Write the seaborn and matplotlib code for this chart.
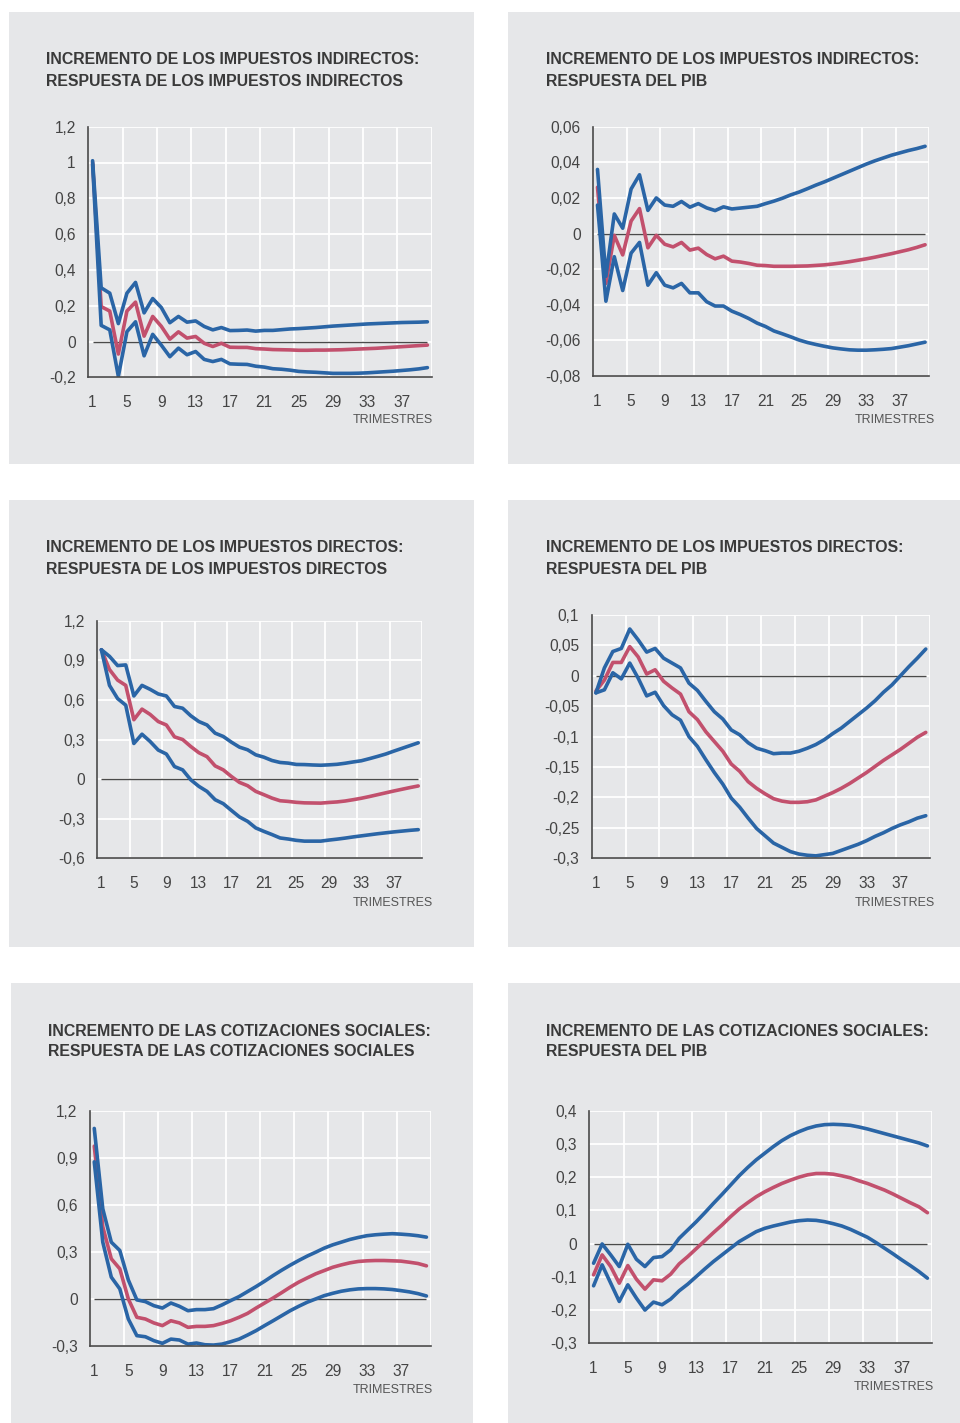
import numpy as np
import pandas as pd
import matplotlib
matplotlib.use("Agg")
import matplotlib.pyplot as plt
from matplotlib.patches import Rectangle
import seaborn as sns

sns.set_style("white")
plt.rcParams["font.family"] = ["Liberation Sans", "DejaVu Sans"]

# ---------------------------------------------------------------- data
trimestres = list(range(1, 41))
x_ticks = [1, 5, 9, 13, 17, 21, 25, 29, 33, 37]

# 1) Indirect taxes shock -> indirect taxes
ii_sup = [1.01, 0.30, 0.27, 0.10, 0.27, 0.33, 0.16, 0.24, 0.19, 0.105, 0.14, 0.108, 0.115, 0.084, 0.065, 0.078,
          0.061, 0.062, 0.064, 0.058, 0.062, 0.062, 0.066, 0.07, 0.072, 0.075, 0.078, 0.082, 0.086, 0.089, 0.092,
          0.095, 0.098, 0.100, 0.102, 0.104, 0.106, 0.107, 0.108, 0.110]
ii_med = [1.0, 0.195, 0.17, -0.07, 0.17, 0.22, 0.03, 0.14, 0.085, 0.013, 0.054, 0.019, 0.028, -0.01, -0.028, -0.01,
          -0.032, -0.033, -0.033, -0.04, -0.042, -0.045, -0.046, -0.047, -0.049, -0.049, -0.048, -0.048, -0.047,
          -0.046, -0.044, -0.042, -0.040, -0.038, -0.035, -0.032, -0.029, -0.026, -0.023, -0.020]
ii_inf = [0.99, 0.09, 0.065, -0.195, 0.055, 0.11, -0.08, 0.04, -0.02, -0.085, -0.037, -0.074, -0.056, -0.1, -0.112,
          -0.1, -0.125, -0.127, -0.128, -0.138, -0.143, -0.152, -0.155, -0.16, -0.167, -0.17, -0.172, -0.175, -0.178,
          -0.178, -0.178, -0.177, -0.175, -0.172, -0.169, -0.166, -0.162, -0.158, -0.153, -0.146]

# 2) Indirect taxes shock -> GDP
ip_sup = [0.036, -0.024, 0.011, 0.003, 0.025, 0.033, 0.013, 0.020, 0.016, 0.0153, 0.018, 0.0148, 0.0168, 0.0144,
          0.0129, 0.015, 0.0138, 0.0143, 0.0148, 0.0153, 0.0168, 0.0182, 0.0198, 0.0217, 0.0233, 0.0252, 0.0272,
          0.0290, 0.0310, 0.0330, 0.0350, 0.0370, 0.0390, 0.0408, 0.0424, 0.0440, 0.0453, 0.0466, 0.0477, 0.0490]
ip_med = [0.026, -0.028, -0.001, -0.012, 0.007, 0.014, -0.008, -0.001, -0.006, -0.0075, -0.005, -0.0093, -0.0082,
          -0.0118, -0.0142, -0.0127, -0.0155, -0.016, -0.0168, -0.0178, -0.018, -0.0184, -0.0184, -0.0184, -0.0183,
          -0.0182, -0.0179, -0.0176, -0.0171, -0.0165, -0.0158, -0.0150, -0.0142, -0.0133, -0.0123, -0.0113,
          -0.0102, -0.0091, -0.0078, -0.0063]
ip_inf = [0.016, -0.038, -0.013, -0.032, -0.011, -0.005, -0.029, -0.022, -0.029, -0.0305, -0.028, -0.0333, -0.0333,
          -0.0383, -0.0407, -0.0407, -0.0436, -0.0455, -0.0477, -0.0503, -0.0522, -0.0547, -0.0563, -0.058, -0.0598,
          -0.0612, -0.0623, -0.0633, -0.0642, -0.0648, -0.0653, -0.0655, -0.0655, -0.0653, -0.0650, -0.0646,
          -0.0638, -0.0630, -0.0620, -0.0610]

# 3) Direct taxes shock -> direct taxes
dd_sup = [0.98, 0.93, 0.86, 0.865, 0.63, 0.71, 0.68, 0.645, 0.63, 0.55, 0.537, 0.48, 0.436, 0.41, 0.348, 0.323, 0.28,
          0.242, 0.222, 0.184, 0.166, 0.141, 0.126, 0.121, 0.111, 0.11, 0.107, 0.105, 0.108, 0.112, 0.12, 0.13, 0.139,
          0.155, 0.172, 0.19, 0.212, 0.233, 0.254, 0.275]
dd_med = [0.98, 0.83, 0.75, 0.71, 0.45, 0.53, 0.49, 0.436, 0.41, 0.32, 0.30, 0.247, 0.2, 0.17, 0.1, 0.07, 0.02,
          -0.025, -0.05, -0.093, -0.118, -0.144, -0.164, -0.169, -0.176, -0.18, -0.181, -0.182, -0.177, -0.173,
          -0.166, -0.156, -0.145, -0.132, -0.118, -0.104, -0.09, -0.077, -0.064, -0.052]
dd_inf = [0.98, 0.71, 0.61, 0.56, 0.27, 0.34, 0.285, 0.22, 0.19, 0.095, 0.07, -0.005, -0.055, -0.093, -0.156,
          -0.186, -0.237, -0.287, -0.32, -0.37, -0.396, -0.42, -0.446, -0.454, -0.464, -0.47, -0.47, -0.47, -0.462,
          -0.455, -0.447, -0.438, -0.43, -0.422, -0.414, -0.407, -0.4, -0.394, -0.388, -0.383]

# 4) Direct taxes shock -> GDP
dp_sup = [-0.028, 0.013, 0.04, 0.045, 0.077, 0.059, 0.039, 0.045, 0.029, 0.021, 0.013, -0.012, -0.024, -0.042,
          -0.059, -0.071, -0.089, -0.097, -0.11, -0.119, -0.123, -0.128, -0.127, -0.127, -0.124, -0.119, -0.113,
          -0.105, -0.095, -0.086, -0.075, -0.064, -0.053, -0.041, -0.027, -0.015, 0.0, 0.015, 0.029, 0.044]
dp_med = [-0.025, -0.007, 0.022, 0.022, 0.048, 0.031, 0.003, 0.01, -0.009, -0.02, -0.03, -0.059, -0.072, -0.092,
          -0.108, -0.124, -0.145, -0.157, -0.174, -0.185, -0.194, -0.202, -0.206, -0.208, -0.208, -0.207, -0.204,
          -0.198, -0.192, -0.185, -0.177, -0.168, -0.159, -0.149, -0.139, -0.13, -0.121, -0.111, -0.101, -0.093]
dp_inf = [-0.028, -0.023, 0.005, -0.005, 0.021, -0.004, -0.033, -0.027, -0.049, -0.064, -0.073, -0.1, -0.116,
          -0.138, -0.159, -0.178, -0.201, -0.216, -0.234, -0.251, -0.263, -0.275, -0.282, -0.289, -0.293, -0.295,
          -0.296, -0.294, -0.292, -0.287, -0.282, -0.277, -0.271, -0.264, -0.258, -0.251, -0.245, -0.24, -0.234,
          -0.230]

# 5) Social contributions shock -> social contributions
cc_sup = [1.087, 0.575, 0.362, 0.309, 0.121, -0.006, -0.017, -0.043, -0.058, -0.026, -0.047, -0.075, -0.068, -0.068,
          -0.062, -0.038, -0.011, 0.015, 0.047, 0.079, 0.113, 0.149, 0.183, 0.215, 0.245, 0.273, 0.298, 0.324, 0.345,
          0.362, 0.379, 0.392, 0.403, 0.409, 0.413, 0.416, 0.413, 0.409, 0.403, 0.394]
cc_med = [0.974, 0.46, 0.256, 0.192, 0.0, -0.117, -0.128, -0.153, -0.17, -0.139, -0.153, -0.181, -0.175, -0.175,
          -0.17, -0.156, -0.139, -0.117, -0.092, -0.058, -0.026, 0.006, 0.04, 0.075, 0.107, 0.134, 0.16, 0.181, 0.202,
          0.217, 0.23, 0.239, 0.243, 0.245, 0.245, 0.243, 0.241, 0.234, 0.226, 0.211]
cc_inf = [0.874, 0.362, 0.139, 0.064, -0.128, -0.234, -0.241, -0.266, -0.283, -0.256, -0.262, -0.288, -0.281,
          -0.292, -0.294, -0.288, -0.273, -0.256, -0.23, -0.202, -0.17, -0.139, -0.107, -0.075, -0.047, -0.021, 0.0,
          0.021, 0.036, 0.049, 0.058, 0.064, 0.066, 0.066, 0.064, 0.06, 0.053, 0.045, 0.034, 0.019]

# 6) Social contributions shock -> GDP
cp_sup = [-0.059, -0.001, -0.034, -0.069, -0.002, -0.047, -0.069, -0.042, -0.039, -0.019, 0.016, 0.041, 0.066, 0.093,
          0.121, 0.148, 0.176, 0.204, 0.229, 0.252, 0.272, 0.292, 0.31, 0.325, 0.337, 0.347, 0.354, 0.358, 0.359,
          0.358, 0.356, 0.351, 0.345, 0.338, 0.331, 0.324, 0.317, 0.31, 0.303, 0.294]
cp_med = [-0.094, -0.034, -0.069, -0.119, -0.066, -0.107, -0.137, -0.109, -0.112, -0.092, -0.061, -0.039, -0.015,
          0.009, 0.033, 0.056, 0.081, 0.104, 0.123, 0.141, 0.156, 0.169, 0.181, 0.191, 0.2, 0.207, 0.211, 0.211,
          0.209, 0.204, 0.198, 0.189, 0.181, 0.171, 0.161, 0.149, 0.136, 0.123, 0.111, 0.093]
cp_inf = [-0.127, -0.064, -0.119, -0.174, -0.124, -0.164, -0.2, -0.176, -0.184, -0.167, -0.142, -0.122, -0.099,
          -0.076, -0.054, -0.034, -0.014, 0.006, 0.021, 0.036, 0.046, 0.053, 0.059, 0.065, 0.069, 0.071, 0.07, 0.066,
          0.06, 0.053, 0.043, 0.031, 0.019, 0.003, -0.014, -0.031, -0.049, -0.066, -0.084, -0.104]

titles = [
    "INCREMENTO DE LOS IMPUESTOS INDIRECTOS:\nRESPUESTA DE LOS IMPUESTOS INDIRECTOS",
    "INCREMENTO DE LOS IMPUESTOS INDIRECTOS:\nRESPUESTA DEL PIB",
    "INCREMENTO DE LOS IMPUESTOS DIRECTOS:\nRESPUESTA DE LOS IMPUESTOS DIRECTOS",
    "INCREMENTO DE LOS IMPUESTOS DIRECTOS:\nRESPUESTA DEL PIB",
    "INCREMENTO DE LAS COTIZACIONES SOCIALES:\nRESPUESTA DE LAS COTIZACIONES SOCIALES",
    "INCREMENTO DE LAS COTIZACIONES SOCIALES:\nRESPUESTA DEL PIB",
]
x_axis_label = "TRIMESTRES"

y_ticks_1 = [-0.2, 0, 0.2, 0.4, 0.6, 0.8, 1, 1.2]
y_labels_1 = ["-0,2", "0", "0,2", "0,4", "0,6", "0,8", "1", "1,2"]
y_ticks_2 = [-0.08, -0.06, -0.04, -0.02, 0, 0.02, 0.04, 0.06]
y_labels_2 = ["-0,08", "-0,06", "-0,04", "-0,02", "0", "0,02", "0,04", "0,06"]
y_ticks_3 = [-0.6, -0.3, 0, 0.3, 0.6, 0.9, 1.2]
y_labels_3 = ["-0,6", "-0,3", "0", "0,3", "0,6", "0,9", "1,2"]
y_ticks_4 = [-0.3, -0.25, -0.2, -0.15, -0.1, -0.05, 0, 0.05, 0.1]
y_labels_4 = ["-0,3", "-0,25", "-0,2", "-0,15", "-0,1", "-0,05", "0", "0,05", "0,1"]
y_ticks_5 = [-0.3, 0, 0.3, 0.6, 0.9, 1.2]
y_labels_5 = ["-0,3", "0", "0,3", "0,6", "0,9", "1,2"]
y_ticks_6 = [-0.3, -0.2, -0.1, 0, 0.1, 0.2, 0.3, 0.4]
y_labels_6 = ["-0,3", "-0,2", "-0,1", "0", "0,1", "0,2", "0,3", "0,4"]

# ---------------------------------------------------------------- layout (pixels)
W, H = 960, 1423
BG = "#e6e7e9"
BLUE = "#2a65a6"
RED = "#c2506d"
TXT = "#3a3a3a"

panels = [
    # card box (x0, y0, x1, y1), axes box (l, t, r, b), title anchor, axis-name anchor (right, middle)
    dict(card=(9, 12, 474, 464), ax=(88.3, 126.7, 431.7, 377.3), tit=(46, 70.5), xl=(433, 420),
         series=(ii_sup, ii_med, ii_inf), yt=y_ticks_1, yl=y_labels_1),
    dict(card=(508, 12, 960, 464), ax=(593.3, 126.7, 929.3, 376.0), tit=(546, 70.5), xl=(935, 420),
         series=(ip_sup, ip_med, ip_inf), yt=y_ticks_2, yl=y_labels_2),
    dict(card=(9, 500, 474, 947), ax=(97.3, 620.7, 422.3, 858.3), tit=(46, 558.5), xl=(433, 903),
         series=(dd_sup, dd_med, dd_inf), yt=y_ticks_3, yl=y_labels_3),
    dict(card=(508, 500, 960, 947), ax=(591.7, 615.0, 930.0, 858.3), tit=(546, 558.5), xl=(935, 903),
         series=(dp_sup, dp_med, dp_inf), yt=y_ticks_4, yl=y_labels_4),
    dict(card=(11, 983, 473, 1423), ax=(90.0, 1110.7, 430.7, 1346.0), tit=(48, 1041.5), xl=(433, 1390),
         series=(cc_sup, cc_med, cc_inf), yt=y_ticks_5, yl=y_labels_5),
    dict(card=(508, 983, 960, 1423), ax=(589.3, 1110.7, 931.7, 1343.3), tit=(546, 1041.5), xl=(934, 1387),
         series=(cp_sup, cp_med, cp_inf), yt=y_ticks_6, yl=y_labels_6),
]

fig = plt.figure(figsize=(W / 100, H / 100), dpi=100)
fig.patch.set_facecolor("white")

for p, title in zip(panels, titles):
    x0, y0, x1, y1 = p["card"]
    fig.patches.append(Rectangle((x0 / W, 1 - y1 / H), (x1 - x0) / W, (y1 - y0) / H,
                                 transform=fig.transFigure, facecolor=BG, edgecolor="none", zorder=-5))
    fig.text(p["tit"][0] / W, 1 - p["tit"][1] / H, title, fontsize=11.4, fontweight="bold",
             color=TXT, ha="left", va="center", linespacing=1.5)
    fig.text(p["xl"][0] / W, 1 - p["xl"][1] / H, x_axis_label, fontsize=9, color="#555555",
             ha="right", va="center")

    l, t, r, b = p["ax"]
    ax = fig.add_axes([l / W, 1 - b / H, (r - l) / W, (b - t) / H])
    ax.set_facecolor(BG)

    sup, med, inf = p["series"]
    df = pd.DataFrame({"trimestre": trimestres, "sup": sup, "med": med, "inf": inf})
    sns.lineplot(data=df, x="trimestre", y="med", ax=ax, color=RED, lw=2.6, zorder=3)
    sns.lineplot(data=df, x="trimestre", y="sup", ax=ax, color=BLUE, lw=2.6, zorder=4)
    sns.lineplot(data=df, x="trimestre", y="inf", ax=ax, color=BLUE, lw=2.6, zorder=4)

    ax.hlines(0, trimestres[0], trimestres[-1], color="#4a4a4a", lw=1.0, zorder=2)

    ax.set_xlim(trimestres[0] - 0.5, trimestres[-1] + 0.5)
    ax.set_ylim(p["yt"][0], p["yt"][-1])
    ax.set_xticks(x_ticks)
    ax.set_xticklabels([str(v) for v in x_ticks])
    ax.set_yticks(p["yt"])
    ax.set_yticklabels(p["yl"])
    # vertical grid sits on category boundaries
    ax.set_xticks([v + 3.5 for v in x_ticks], minor=True)
    ax.grid(False)
    ax.grid(True, which="minor", axis="x", color="white", lw=1.3, zorder=1)
    ax.grid(True, which="major", axis="y", color="white", lw=1.3, zorder=1)
    ax.set_axisbelow(True)
    ax.tick_params(axis="both", which="both", length=0, labelsize=11.2, labelcolor="#444444")
    ax.tick_params(axis="x", pad=13)
    ax.tick_params(axis="y", pad=9)
    ax.set_xlabel("")
    ax.set_ylabel("")
    for side in ("top", "right"):
        ax.spines[side].set_visible(False)
    for side in ("left", "bottom"):
        ax.spines[side].set_color("#4a4a4a")
        ax.spines[side].set_linewidth(1.2)
        ax.spines[side].set_zorder(5)

fig.savefig("out.png", dpi=100, facecolor="white")
